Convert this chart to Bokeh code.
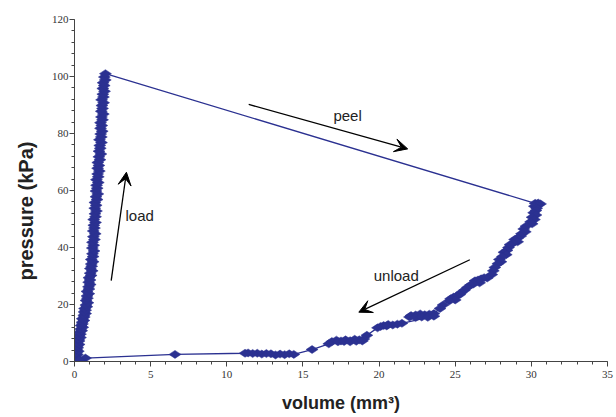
from math import pi
from bokeh.plotting import figure
from bokeh.models import FixedTicker, Range1d, Arrow, VeeHead, Label, Title
from bokeh.embed import file_html
from bokeh.resources import INLINE

# ---- data ----
load_x = [0.00, 0.05, 0.13, 0.06, 0.19, 0.13, 0.25, 0.13, 0.21, 0.18, 0.30, 0.17, 0.30,
          0.27, 0.39, 0.29, 0.39, 0.32, 0.47, 0.41, 0.54, 0.43, 0.52, 0.50, 0.62, 0.51,
          0.64, 0.61, 0.73, 0.63, 0.73, 0.66, 0.81, 0.75, 0.88, 0.76, 0.85, 0.82, 0.94,
          0.82, 0.95, 0.92, 1.03, 0.93, 1.02, 0.95, 1.09, 1.03, 1.16, 1.04, 1.13, 1.10,
          1.22, 1.10, 1.22, 1.18, 1.28, 1.17, 1.26, 1.18, 1.31, 1.24, 1.36, 1.23, 1.31,
          1.27, 1.38, 1.26, 1.38, 1.34, 1.44, 1.33, 1.42, 1.34, 1.48, 1.41, 1.53, 1.41,
          1.49, 1.45, 1.56, 1.44, 1.56, 1.52, 1.63, 1.52, 1.60, 1.53, 1.67, 1.60, 1.73,
          1.61, 1.69, 1.66, 1.77, 1.64, 1.76, 1.72, 1.82, 1.71, 1.79, 1.71, 1.84, 1.77,
          1.89, 1.76, 1.84, 1.80, 1.91, 1.78, 1.90, 1.86, 1.97, 1.86, 1.95, 1.88, 2.02,
          1.96, 2.03]
load_y = [0.0, 0.6, 1.2, 1.8, 2.4, 3.0, 3.6, 4.2, 4.8, 5.4, 6.0, 6.6, 7.2,
          7.8, 8.4, 9.0, 9.6, 10.2, 10.8, 11.4, 12.0, 12.6, 13.2, 13.8, 14.4, 15.0,
          15.6, 16.2, 16.8, 17.4, 18.0, 18.6, 19.2, 19.8, 20.6, 21.4, 22.2, 23.0, 23.8,
          24.6, 25.4, 26.2, 27.0, 27.8, 28.6, 29.4, 30.2, 31.0, 31.8, 32.6, 33.4, 34.2,
          35.0, 35.8, 36.8, 37.8, 38.8, 39.8, 40.8, 41.8, 42.8, 43.8, 44.8, 45.8, 46.8,
          47.8, 48.8, 49.8, 50.8, 51.8, 52.8, 53.8, 54.8, 55.8, 56.8, 57.8, 58.8, 59.8,
          60.8, 61.8, 62.8, 63.8, 64.8, 65.8, 66.8, 67.8, 68.8, 69.8, 70.8, 71.8, 72.8,
          73.8, 74.8, 75.8, 76.8, 77.8, 78.8, 79.8, 80.8, 81.8, 82.8, 83.8, 84.8, 85.8,
          86.8, 87.8, 88.8, 89.8, 90.8, 91.8, 92.8, 93.8, 94.8, 95.8, 96.8, 97.8, 98.8,
          99.8, 101.0]

unload_x = [30.25, 30.45, 30.60, 30.40, 30.20, 30.35, 30.30, 30.15, 30.30, 30.05, 30.20,
            29.95, 30.05, 29.65, 29.50, 29.60, 29.35, 29.30, 29.10, 28.90, 29.10, 28.80,
            28.60, 28.50, 28.40, 28.20, 28.35, 28.10, 27.90, 28.00, 27.80, 27.60, 27.50,
            27.40, 27.10, 26.90, 26.70, 26.50, 26.30, 26.60, 26.20, 26.00, 25.80, 25.60,
            25.40, 25.30, 25.10, 24.90, 24.70, 25.00, 24.60, 24.20, 24.00,
            23.60, 23.30, 23.00, 22.70, 22.40, 22.10, 22.00, 22.40, 22.80, 23.20, 23.60,
            21.50, 21.20, 20.90, 20.60, 20.30, 20.10, 20.50, 19.90, 19.20,
            19.00, 18.70, 18.40, 18.10, 17.80, 17.50, 17.20, 16.90, 17.30, 17.70, 18.10,
            18.50, 18.90, 16.70, 15.60,
            14.40, 14.10, 13.80, 13.50, 13.20, 12.90, 12.60, 12.30, 12.00, 11.70, 11.40,
            11.20, 6.60, 0.72, 0.30]
unload_y = [55.5, 55.6, 55.3, 54.8, 54.5, 53.8, 53.0, 52.2, 51.4, 50.6, 49.8,
            49.0, 48.3, 47.5, 46.5, 45.5, 44.8, 44.0, 43.3, 42.8, 42.0, 41.5,
            41.0, 40.0, 39.0, 38.3, 37.5, 36.8, 35.8, 35.0, 34.3, 33.0, 31.8,
            30.5, 29.3, 29.4, 29.0, 28.6, 28.3, 27.6, 27.2, 26.8, 26.0, 25.0,
            24.2, 23.5, 23.0, 22.6, 22.0, 21.6, 21.2, 19.8, 18.6,
            16.8, 16.6, 16.4, 16.7, 16.3, 16.1, 15.6, 15.4, 15.6, 15.5, 15.9,
            13.4, 13.1, 12.8, 13.0, 12.6, 12.3, 12.5, 11.8, 9.2,
            7.9, 7.6, 7.8, 7.3, 7.6, 7.2, 7.5, 7.0, 6.9, 7.0, 6.9,
            7.1, 7.2, 6.2, 4.2,
            2.5, 2.7, 2.4, 2.6, 2.3, 2.7, 2.8, 2.6, 2.9, 2.8, 3.0,
            2.9, 2.5, 1.2, 0.5]

x_ticks = [0, 5, 10, 15, 20, 25, 30, 35]
y_ticks = [0, 20, 40, 60, 80, 100, 120]
x_label = "volume (mm³)"
y_label = "pressure (kPa)"

NAVY = "#2B3191"

p = figure(width=616, height=417, x_range=Range1d(0, 35), y_range=Range1d(0, 120),
           output_backend="svg", toolbar_location=None,
           min_border_left=74, min_border_right=9, min_border_top=19, min_border_bottom=56)
p.outline_line_color = None
p.grid.visible = False
p.background_fill_color = "white"
p.border_fill_color = "white"

path_x = load_x + unload_x
path_y = load_y + unload_y
p.line(path_x, path_y, line_color=NAVY, line_width=1.3)
p.scatter(path_x, path_y, marker="diamond", size=12, angle=pi / 2,
          fill_color=NAVY, line_color=NAVY, line_width=0.5)

for ax in (p.xaxis[0], p.yaxis[0]):
    ax.axis_line_color = "#444444"
    ax.major_tick_line_color = "#444444"
    ax.minor_tick_line_color = "#444444"
    ax.major_tick_in = 0
    ax.minor_tick_in = 0
    ax.minor_tick_out = 3
    ax.major_label_text_font = "Liberation Serif"
    ax.major_label_text_font_size = "11px"
    ax.major_label_text_color = "#333333"

p.xaxis.ticker = FixedTicker(ticks=x_ticks, minor_ticks=list(range(0, 36)))
p.yaxis.ticker = FixedTicker(ticks=y_ticks, minor_ticks=list(range(0, 121, 4)))
p.xaxis.major_tick_out = 5
p.yaxis.major_tick_out = 5
p.xaxis.major_label_standoff = 4
p.yaxis.major_label_standoff = 1

p.xaxis.axis_label = x_label
p.xaxis.axis_label_text_font = "Liberation Sans"
p.xaxis.axis_label_text_font_style = "bold"
p.xaxis.axis_label_text_font_size = "18px"
p.xaxis.axis_label_text_color = "#222222"
p.xaxis.axis_label_standoff = 12

ytitle = Title(text=y_label, align="left", offset=81, standoff=24,
               text_font="Liberation Sans", text_font_style="bold",
               text_font_size="20px", text_color="#222222")
p.add_layout(ytitle, "left")

# ---- annotations ----
arrows = [  # (x_start, y_start, x_end, y_end)
    (11.44, 90.2, 21.88, 74.6),
    (2.41, 28.4, 3.41, 66.4),
    (25.96, 35.7, 18.67, 17.3),
]
for xs, ys, xe, ye in arrows:
    p.add_layout(Arrow(x_start=xs, y_start=ys, x_end=xe, y_end=ye,
                       line_color="black", line_width=1.3,
                       end=VeeHead(size=13, fill_color="black", line_color="black")))

notes = [("peel", 17.0, 86.3), ("load", 3.35, 51.2), ("unload", 19.65, 30.2)]
for txt, tx, ty in notes:
    p.add_layout(Label(x=tx, y=ty, text=txt, text_font="Liberation Sans",
                       text_font_size="15px", text_color="#222222",
                       text_baseline="middle", text_align="left"))

open("out.html", "w").write(file_html(p, INLINE))
